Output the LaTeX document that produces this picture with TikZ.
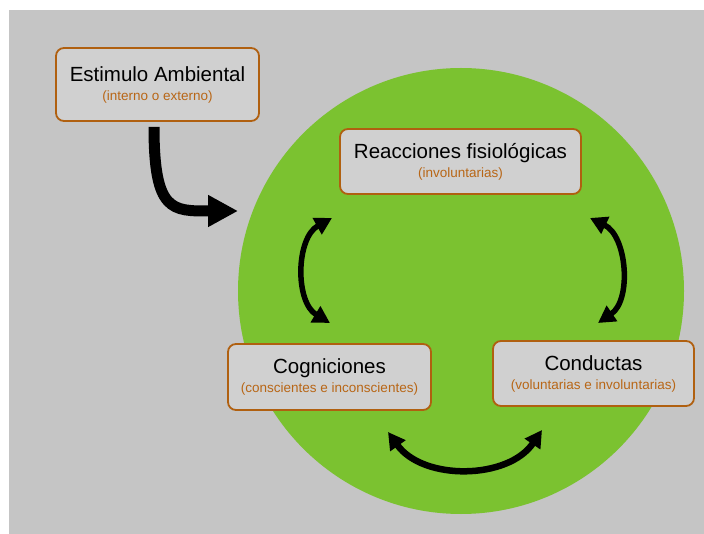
\documentclass[tikz,border=0pt]{standalone}
\usepackage{fontspec}
\setmainfont{Liberation Sans}
\usetikzlibrary{arrows.meta}

\definecolor{fondo}{RGB}{197,197,197}
\definecolor{verde}{RGB}{123,194,48}
\definecolor{caja}{RGB}{208,208,208}
\definecolor{borde}{RGB}{176,96,16}
\definecolor{sub}{RGB}{184,102,22}

\tikzset{
  cuadro/.style={draw=borde, line width=1.8pt, fill=caja, rounded corners=8pt, align=center,
    font=\fontsize{20.5}{19}\selectfont},
  flecha/.style={line width=5.5pt, {Triangle[length=17pt,width=18pt]}-{Triangle[length=17pt,width=18pt]}},
}
\newcommand{\subt}[1]{{\color{sub}\fontsize{13.5}{19}\selectfont #1}}

\begin{document}
\begin{tikzpicture}[x=1pt,y=-1pt]
        \useasboundingbox (0,0) rectangle (704,534); % page size
        \fill[fondo] (9,10) rectangle (704,534); % gray background
        \fill[verde] (461,291) circle (223); % green circle
        \node[cuadro, minimum width=203pt, minimum height=73pt] (estimulo) at (157.5,84.5) {Estimulo Ambiental\\\subt{(interno o externo)}};
        \node[cuadro, minimum width=241pt, minimum height=65pt] (reacciones) at (460.5,161.5) {Reacciones fisiológicas\\\subt{(involuntarias)}};
        \node[cuadro, minimum width=203pt, minimum height=66pt] (cogniciones) at (329.5,377) {Cogniciones\\\subt{(conscientes e inconscientes)}};
        \node[cuadro, minimum width=201pt, minimum height=65pt] (conductas) at (593.5,373.5) {Conductas\\\subt{(voluntarias e involuntarias)}};
        % free ends of the arrows
        \coordinate (entrada) at (238,211);
        \coordinate (izqA) at (332,218);
        \coordinate (izqB) at (330,323);
        \coordinate (derA) at (590,218);
        \coordinate (derB) at (598,323);
        \coordinate (abaA) at (388,432);
        \coordinate (abaB) at (542,430);
        \draw[line width=11pt, -{Triangle[length=30pt,width=30pt]}] ([shift={(-3.5,5)}]estimulo.south) .. controls (154,212) and (172,211) .. (entrada); % stimulus enters
        \draw[flecha] (izqA) to[bend right=60] (izqB); % left arrow
        \draw[flecha] (derA) to[bend left=60] (derB); % right arrow
        \draw[flecha, line width=6.5pt] (abaA) to[bend right=55] (abaB); % bottom arrow
    \end{tikzpicture}
\end{document}
